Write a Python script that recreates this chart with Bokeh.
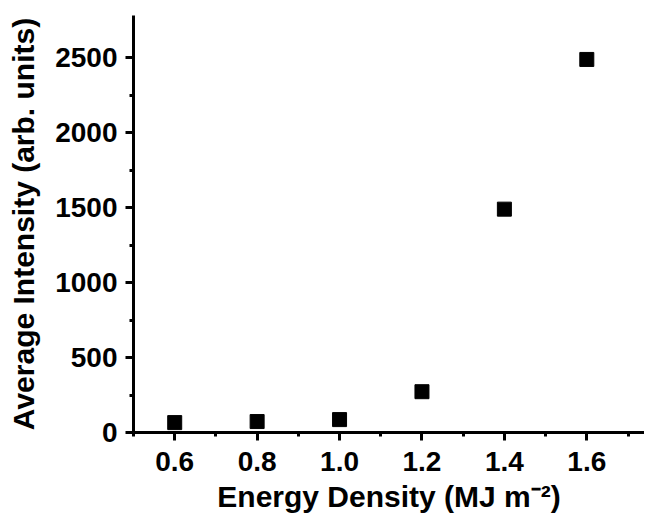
from bokeh.plotting import figure
from bokeh.models import Range1d, FixedTicker, ColumnDataSource
from bokeh.embed import file_html
from bokeh.resources import INLINE

energy_density = [0.6, 0.8, 1.0, 1.2, 1.4, 1.6]
avg_intensity = [66, 73, 86, 272, 1489, 2487]
x_ticks = [0.6, 0.8, 1.0, 1.2, 1.4, 1.6]
x_minor = [0.5, 0.7, 0.9, 1.1, 1.3, 1.5, 1.7]
y_ticks = [0, 500, 1000, 1500, 2000, 2500]
y_minor = [250, 750, 1250, 1750, 2250]

FONT = "Liberation Sans"

p = figure(width=644, height=515, output_backend="svg", toolbar_location=None,
           x_range=Range1d(0.5, 1.74), y_range=Range1d(0, 2780),
           min_border_left=133, min_border_right=0, min_border_top=15,
           min_border_bottom=82)
p.outline_line_color = None
p.grid.visible = False
p.background_fill_color = "white"
p.border_fill_color = "white"

src = ColumnDataSource(dict(x=energy_density, y=avg_intensity))
p.scatter("x", "y", source=src, marker="square", size=14,
          fill_color="black", line_color="black")

for ax in (p.xaxis[0], p.yaxis[0]):
    ax.axis_line_width = 3
    ax.axis_line_color = "black"
    ax.major_tick_line_width = 3
    ax.minor_tick_line_width = 3
    ax.major_tick_out = 8
    ax.major_tick_in = 0
    ax.minor_tick_out = 4
    ax.minor_tick_in = 0
    ax.major_label_text_font = FONT
    ax.major_label_text_font_style = "bold"
    ax.major_label_text_font_size = "28px"
    ax.major_label_text_color = "black"
    ax.axis_label_text_font = FONT
    ax.axis_label_text_font_style = "bold"
    ax.axis_label_text_font_size = "30px"
    ax.axis_label_text_color = "black"

p.xaxis[0].ticker = FixedTicker(ticks=x_ticks, minor_ticks=x_minor)
p.yaxis[0].ticker = FixedTicker(ticks=y_ticks, minor_ticks=y_minor)
p.xaxis[0].major_label_overrides = {v: f"{v:.1f}" for v in x_ticks}
p.xaxis[0].major_label_standoff = 11
p.yaxis[0].major_label_standoff = 8
p.xaxis[0].axis_label = "Energy Density (MJ m\u207b\u00b2)"
p.xaxis[0].axis_label_standoff = 6
p.yaxis[0].axis_label = "Average Intensity (arb. units)"
p.yaxis[0].axis_label_standoff = 12

open("out.html", "w").write(file_html(p, INLINE))
